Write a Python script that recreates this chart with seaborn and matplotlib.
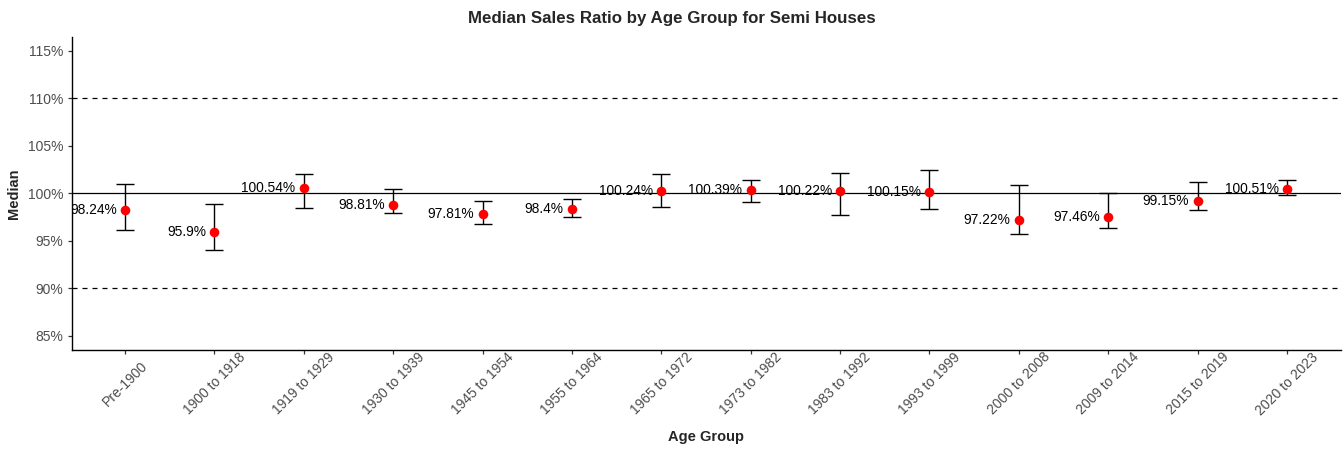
import matplotlib
matplotlib.use("Agg")
import matplotlib.pyplot as plt
import matplotlib.transforms as mtransforms
from matplotlib.ticker import FuncFormatter
import numpy as np
import pandas as pd
import seaborn as sns

# Age groups and the median sales ratio (%) with its interval bounds
age_groups = ["Pre-1900", "1900 to 1918", "1919 to 1929", "1930 to 1939",
              "1945 to 1954", "1955 to 1964", "1965 to 1972", "1973 to 1982",
              "1983 to 1992", "1993 to 1999", "2000 to 2008", "2009 to 2014",
              "2015 to 2019", "2020 to 2023"]
median_ratio = [98.24, 95.9, 100.54, 98.81, 97.81, 98.4, 100.24, 100.39,
                100.22, 100.15, 97.22, 97.46, 99.15, 100.51]
lower_bound = [96.1, 94.0, 98.5, 97.9, 96.8, 97.5, 98.6, 99.1,
               97.7, 98.4, 95.7, 96.35, 98.2, 99.85]
upper_bound = [101.0, 98.9, 102.0, 100.5, 99.15, 99.45, 102.0, 101.45,
               102.1, 102.5, 100.9, 100.0, 101.2, 101.45]
y_ticks = [85, 90, 95, 100, 105, 110, 115]

df = pd.DataFrame({"Age Group": age_groups, "Median": median_ratio,
                   "low": lower_bound, "high": upper_bound})

sns.set_theme(style="ticks")
plt.rcParams["font.family"] = ["Liberation Sans", "DejaVu Sans"]

fig = plt.figure(figsize=(13.44, 4.5), dpi=100)
ax = fig.add_axes([71.5 / 1344, 1 - 350 / 450, (1340.6 - 71.5) / 1344, (350 - 36.7) / 450])

# Reference lines
ax.axhline(100, color="black", lw=0.9, zorder=1)
for y in (90, 110):
    ax.axhline(y, color="black", lw=0.9, ls=(0, (4, 4)), zorder=1)

# Interval bars
yerr = np.array([df["Median"] - df["low"], df["high"] - df["Median"]])
ax.errorbar(df["Age Group"], df["Median"], yerr=yerr, fmt="none",
            ecolor="black", elinewidth=1.0, capsize=6.4, capthick=1.0, zorder=2)

# Median points
sns.scatterplot(data=df, x="Age Group", y="Median", color="#FF0000", s=48,
                linewidth=0, ax=ax, zorder=3)

# Value labels to the left of each point
offset = mtransforms.offset_copy(ax.transData, fig=fig, x=-6.0, y=0, units="points")
for i, v in enumerate(df["Median"]):
    ax.text(i, v, f"{v:g}%", transform=offset, ha="right", va="center",
            fontsize=9.9, color="black", clip_on=True, zorder=4)

ax.set_xlim(-0.6, len(age_groups) - 0.4)
ax.set_ylim(83.5, 116.5)
ax.set_yticks(y_ticks)
ax.yaxis.set_major_formatter(FuncFormatter(lambda v, _: f"{v:g}%"))

sns.despine(ax=ax)
for side in ("left", "bottom"):
    ax.spines[side].set_color("black")
    ax.spines[side].set_linewidth(1.0)

ax.tick_params(axis="both", length=2.8, width=0.9, color="#333333",
               labelsize=10, labelcolor="#4D4D4D")
ax.tick_params(axis="y", pad=3)
ax.tick_params(axis="x", pad=21.5)
plt.setp(ax.get_xticklabels(), rotation=45, ha="center", va="center")

ax.set_xlabel("Age Group", fontsize=10.5, fontweight="bold", labelpad=9)
ax.set_ylabel("Median", fontsize=10.5, fontweight="bold", labelpad=5)
fig.text(0.5, 1 - 18 / 450, "Median Sales Ratio by Age Group for Semi Houses",
         ha="center", va="center", fontsize=12.2, fontweight="bold")

fig.savefig("out.png", dpi=100, facecolor="white")
